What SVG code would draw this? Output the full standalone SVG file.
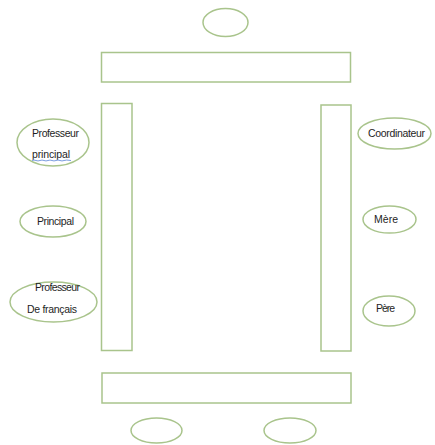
<svg xmlns="http://www.w3.org/2000/svg" width="435" height="445" viewBox="0 0 435 445">
<style>
.s{fill:#fff;stroke:#a9c48c;stroke-width:1.5}
.t{font-family:"Liberation Sans",Arial,sans-serif;font-size:10.5px;fill:#1e1e1e}
</style>
<rect width="435" height="445" fill="#fff"/>
<g id="connectors"></g>
<g id="top-ellipse"><ellipse class="s" cx="225.5" cy="22.5" rx="22.5" ry="14"/></g>
<g id="top-bar"><rect class="s" x="101.5" y="52.5" width="249" height="29.5"/></g>
<g id="left-bar"><rect class="s" x="101.5" y="103.5" width="30.5" height="247"/></g>
<g id="right-bar"><rect class="s" x="321" y="105" width="30" height="246"/></g>
<g id="bottom-bar"><rect class="s" x="102" y="373" width="249" height="30"/></g>
<g id="bottom-ellipse-1"><ellipse class="s" cx="156.5" cy="430.5" rx="25.5" ry="12.5"/></g>
<g id="bottom-ellipse-2"><ellipse class="s" cx="290" cy="430.5" rx="26" ry="12.5"/></g>
<g id="prof-principal">
<ellipse class="s" cx="53" cy="142.5" rx="36" ry="23.5"/>
<text class="t" x="32" y="137" textLength="47">Professeur</text>
<text class="t" x="32" y="157.5" textLength="38">principal</text>
<path d="M32 160.5 Q34 159.6 36 160.5 T40 160.5 T44 160.5 T48 160.5 T52 160.5 T56 160.5 T60 160.5 T64 160.5 T71 160.5" fill="none" stroke="#7c9ee0" stroke-width="1"/>
</g>
<g id="principal">
<ellipse class="s" cx="53" cy="221.5" rx="33" ry="15.5"/>
<text class="t" x="37" y="225" textLength="37">Principal</text>
</g>
<g id="prof-francais">
<ellipse class="s" cx="53.5" cy="302" rx="43.5" ry="20"/>
<text class="t" x="35" y="291" textLength="45">Professeur</text>
<text class="t" x="27" y="313" textLength="50">De français</text>
</g>
<g id="coordinateur">
<ellipse class="s" cx="394.5" cy="133.5" rx="36.5" ry="15.5"/>
<text class="t" x="368" y="137" textLength="57">Coordinateur</text>
</g>
<g id="mere">
<ellipse class="s" cx="389.5" cy="219.5" rx="26.5" ry="13.5"/>
<text class="t" x="374" y="223" textLength="24">Mère</text>
</g>
<g id="pere">
<ellipse class="s" cx="389" cy="311" rx="26" ry="15"/>
<text class="t" x="376" y="311.5" textLength="19">Père</text>
</g>
</svg>
